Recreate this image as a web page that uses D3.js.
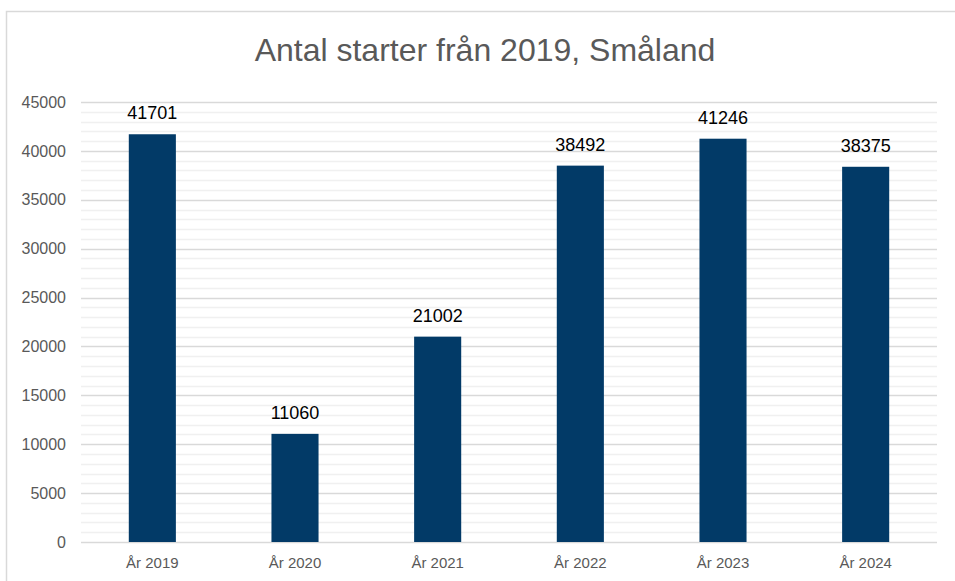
<!DOCTYPE html>
<html>
<head>
    <meta charset="utf-8">
    <title>Antal starter</title>
    <style>
      body { margin: 0; background: #fff; }
      svg { font-family: "Liberation Sans", Arial, sans-serif; }
      .y-axis path, .x-axis path { stroke: none; }
      .y-axis .tick line { stroke: none; }
      .x-axis .tick line { stroke: none; }
    </style>
</head>
<body>
    <script src="https://d3js.org/d3.v7.min.js"></script>
    <script type="text/javascript">
        // data
        var years = ["År 2019", "År 2020", "År 2021", "År 2022", "År 2023", "År 2024"];
        var starts = [41701, 11060, 21002, 38492, 41246, 38375];
        var yTicks = [0, 5000, 10000, 15000, 20000, 25000, 30000, 35000, 40000, 45000];
        var title = "Antal starter från 2019, Småland";

        var width = 955, height = 581;
        var margin = {left: 81, right: 18, top: 102, bottom: 39};

        var svg = d3.select("body")
            .append("svg")
            .attr("width", width)
            .attr("height", height);

        // chart frame
        svg.append("rect")
            .attr("x", 6.5)
            .attr("y", 11.5)
            .attr("width", 980)
            .attr("height", 600)
            .attr("fill", "#fff")
            .attr("stroke", "#d9d9d9")
            .attr("stroke-width", 1.5);

        var xScale = d3.scaleBand()
            .domain(years)
            .range([margin.left, width - margin.right])
            .paddingInner(0.67)
            .paddingOuter(0.335);

        var yScale = d3.scaleLinear()
            .domain([0, 45000])
            .range([height - margin.bottom, margin.top]);

        // minor gridlines
        svg.append("g")
            .selectAll("line")
            .data(d3.range(1000, 45000, 1000).filter(function(v) { return v % 5000 !== 0; }))
            .enter()
            .append("line")
            .attr("x1", margin.left)
            .attr("x2", width - margin.right)
            .attr("y1", function(d) { return Math.round(yScale(d)) + 0.5; })
            .attr("y2", function(d) { return Math.round(yScale(d)) + 0.5; })
            .attr("stroke", "#f0f0f0")
            .attr("stroke-width", 1.5);

        // major gridlines
        svg.append("g")
            .selectAll("line")
            .data(yTicks)
            .enter()
            .append("line")
            .attr("x1", margin.left)
            .attr("x2", width - margin.right)
            .attr("y1", function(d) { return Math.round(yScale(d)) + 0.5; })
            .attr("y2", function(d) { return Math.round(yScale(d)) + 0.5; })
            .attr("stroke", "#d9d9d9")
            .attr("stroke-width", 1.5);

        // bars
        svg.selectAll("rect.bar")
            .data(starts)
            .enter()
            .append("rect")
            .attr("class", "bar")
            .attr("x", function(d, i) { return xScale(years[i]); })
            .attr("width", xScale.bandwidth())
            .attr("y", function(d) { return yScale(d); })
            .attr("height", function(d) { return yScale(0) - yScale(d); })
            .attr("fill", "#023a67");

        // value labels
        svg.selectAll("text.val")
            .data(starts)
            .enter()
            .append("text")
            .attr("class", "val")
            .attr("x", function(d, i) { return xScale(years[i]) + xScale.bandwidth() / 2; })
            .attr("y", function(d) { return yScale(d) - 15; })
            .attr("text-anchor", "middle")
            .attr("font-size", "18px")
            .attr("fill", "#000")
            .text(function(d) { return d; });

        // axes
        var yAxis = d3.axisLeft(yScale)
            .tickValues(yTicks)
            .tickSize(0)
            .tickPadding(15)
            .tickFormat(d3.format("d"));

        svg.append("g")
            .attr("class", "y-axis")
            .attr("transform", "translate(" + margin.left + ",0)")
            .call(yAxis)
            .selectAll("text")
            .attr("font-size", "16px")
            .attr("fill", "#595959")
            .attr("font-family", "Liberation Sans, Arial, sans-serif");

        var xAxis = d3.axisBottom(xScale).tickSize(0).tickPadding(15);

        svg.append("g")
            .attr("class", "x-axis")
            .attr("transform", "translate(0," + (height - margin.bottom) + ")")
            .call(xAxis)
            .selectAll("text")
            .attr("font-size", "15px")
            .attr("fill", "#595959")
            .attr("font-family", "Liberation Sans, Arial, sans-serif");

        // title
        svg.append("text")
            .attr("x", 485)
            .attr("y", 61)
            .attr("text-anchor", "middle")
            .attr("font-size", "32px")
            .attr("fill", "#595959")
            .text(title);
    </script>
</body>
</html>
